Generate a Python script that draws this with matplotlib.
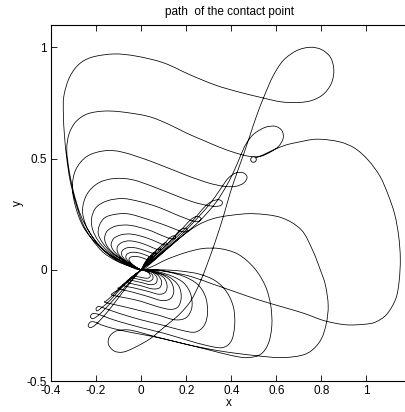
import numpy as np
import matplotlib
matplotlib.use('Agg')
import matplotlib.pyplot as plt
from matplotlib.path import Path
from matplotlib.patches import PathPatch

# start point of the path (small circle)
start_x = [0.496]
start_y = [0.496]

# path, piece by piece (each piece ends at the origin)
lobe_a = [(0.50, 0.50), (0.54, 0.516), (0.59, 0.54), (0.64, 0.56), (0.69, 0.572), (0.78, 0.587),
          (0.88, 0.575), (0.95, 0.545), (1.01, 0.49), (1.06, 0.42), (1.095, 0.34), (1.125, 0.25),
          (1.143, 0.15), (1.15, 0.05), (1.145, -0.05), (1.13, -0.13), (1.09, -0.20), (1.04, -0.235),
          (0.99, -0.245), (0.92, -0.248), (0.86, -0.24), (0.80, -0.225), (0.72, -0.195), (0.62, -0.165),
          (0.52, -0.135), (0.42, -0.10), (0.32, -0.065), (0.22, -0.03), (0.13, -0.01), (0.06, 0.0), (0.0, 0.0)]

loop1 = [(0.0, 0.0), (-0.05, 0.015), (-0.11, 0.04), (-0.17, 0.08), (-0.22, 0.14), (-0.26, 0.21), (-0.29, 0.30),
         (-0.315, 0.40), (-0.33, 0.50), (-0.34, 0.60), (-0.345, 0.70), (-0.343, 0.78), (-0.32, 0.86),
         (-0.28, 0.92), (-0.22, 0.955), (-0.12, 0.97), (-0.02, 0.96), (0.10, 0.93), (0.22, 0.875),
         (0.33, 0.83), (0.43, 0.80), (0.53, 0.775), (0.62, 0.755), (0.70, 0.752), (0.76, 0.762),
         (0.81, 0.79), (0.845, 0.84), (0.855, 0.90), (0.84, 0.955), (0.80, 0.99), (0.75, 1.0),
         (0.69, 0.985), (0.63, 0.94), (0.585, 0.87), (0.55, 0.79), (0.515, 0.70), (0.485, 0.61),
         (0.455, 0.52), (0.425, 0.435), (0.395, 0.345), (0.365, 0.24), (0.33, 0.13), (0.295, 0.03),
         (0.26, -0.06), (0.22, -0.14), (0.17, -0.20), (0.10, -0.26), (0.04, -0.31), (-0.03, -0.35),
         (-0.08, -0.37), (-0.12, -0.365), (-0.145, -0.335), (-0.14, -0.30), (-0.11, -0.275),
         (-0.06, -0.27), (-0.01, -0.28), (0.06, -0.30), (0.20, -0.335), (0.35, -0.365), (0.50, -0.385),
         (0.62, -0.395), (0.71, -0.385), (0.76, -0.36), (0.80, -0.31), (0.822, -0.24), (0.83, -0.16),
         (0.818, -0.07), (0.795, 0.0), (0.76, 0.09), (0.71, 0.18), (0.62, 0.235), (0.50, 0.252),
         (0.40, 0.245), (0.32, 0.23), (0.25, 0.20), (0.18, 0.15), (0.11, 0.09), (0.05, 0.035), (0.0, 0.0)]

loop2 = [(0.0, 0.0), (-0.06, 0.02), (-0.12, 0.05), (-0.18, 0.10), (-0.23, 0.17), (-0.27, 0.25), (-0.30, 0.35),
         (-0.32, 0.45), (-0.33, 0.54), (-0.32, 0.61), (-0.29, 0.665), (-0.24, 0.70), (-0.17, 0.713),
         (-0.09, 0.71), (0.03, 0.69), (0.12, 0.655), (0.20, 0.615), (0.28, 0.58), (0.35, 0.55),
         (0.42, 0.525), (0.48, 0.51), (0.53, 0.51), (0.575, 0.53), (0.61, 0.555), (0.63, 0.59),
         (0.625, 0.625), (0.595, 0.645), (0.55, 0.64), (0.50, 0.61), (0.465, 0.565), (0.44, 0.51),
         (0.415, 0.45), (0.38, 0.38), (0.33, 0.30), (0.26, 0.22), (0.18, 0.15), (0.10, 0.08), (0.04, 0.03),
         (0.0, 0.0), (-0.05, -0.06), (-0.10, -0.125), (-0.15, -0.19), (-0.20, -0.245), (-0.225, -0.26),
         (-0.235, -0.25), (-0.225, -0.235), (-0.205, -0.235), (-0.17, -0.25), (-0.10, -0.27), (0.0, -0.29),
         (0.10, -0.31), (0.20, -0.335), (0.30, -0.36), (0.40, -0.385), (0.47, -0.395), (0.53, -0.38),
         (0.565, -0.33), (0.58, -0.25), (0.575, -0.16), (0.55, -0.07), (0.50, 0.01), (0.43, 0.07),
         (0.35, 0.095), (0.27, 0.095), (0.19, 0.075), (0.11, 0.045), (0.05, 0.015), (0.0, 0.0)]

loop3 = [(0.0, 0.0), (-0.06, 0.025), (-0.13, 0.06), (-0.20, 0.12), (-0.255, 0.19), (-0.29, 0.28), (-0.305, 0.37),
         (-0.29, 0.45), (-0.24, 0.51), (-0.16, 0.535), (-0.08, 0.528), (0.05, 0.485), (0.20, 0.425),
         (0.30, 0.39), (0.37, 0.375), (0.42, 0.375), (0.455, 0.39), (0.47, 0.415), (0.455, 0.435),
         (0.42, 0.435), (0.385, 0.41), (0.35, 0.36), (0.30, 0.29), (0.22, 0.20), (0.14, 0.12), (0.07, 0.06),
         (0.0, 0.0), (-0.05, -0.055), (-0.10, -0.11), (-0.15, -0.165), (-0.19, -0.205), (-0.215, -0.22),
         (-0.225, -0.21), (-0.215, -0.197), (-0.19, -0.20), (-0.15, -0.215), (-0.10, -0.232), (0.0, -0.26),
         (0.10, -0.285), (0.20, -0.315), (0.29, -0.34), (0.36, -0.35), (0.40, -0.32), (0.415, -0.25),
         (0.41, -0.17), (0.38, -0.10), (0.33, -0.05), (0.26, -0.02), (0.17, -0.005), (0.08, 0.0), (0.0, 0.0)]

loop4 = [(0.0, 0.0), (-0.05, 0.02), (-0.10, 0.045), (-0.16, 0.085), (-0.21, 0.14), (-0.245, 0.20), (-0.26, 0.27),
         (-0.24, 0.34), (-0.19, 0.39), (-0.12, 0.41), (-0.04, 0.405), (0.05, 0.375), (0.15, 0.335),
         (0.23, 0.305), (0.29, 0.29), (0.33, 0.285), (0.355, 0.29), (0.36, 0.305), (0.345, 0.315),
         (0.32, 0.31), (0.295, 0.295), (0.27, 0.27), (0.22, 0.21), (0.15, 0.14), (0.08, 0.07), (0.03, 0.025),
         (0.0, 0.0), (-0.05, -0.045), (-0.10, -0.095), (-0.14, -0.14), (-0.175, -0.17), (-0.195, -0.185),
         (-0.20, -0.175), (-0.19, -0.165), (-0.17, -0.17), (-0.10, -0.195), (0.0, -0.225), (0.10, -0.25),
         (0.18, -0.272), (0.24, -0.28), (0.28, -0.25), (0.295, -0.19), (0.285, -0.12), (0.25, -0.065),
         (0.19, -0.03), (0.12, -0.01), (0.05, 0.0), (0.0, 0.0)]

loop5 = [(0.0, 0.0), (-0.05, 0.02), (-0.10, 0.048), (-0.15, 0.085), (-0.19, 0.13), (-0.215, 0.18), (-0.22, 0.23),
         (-0.20, 0.28), (-0.15, 0.31), (-0.08, 0.32), (0.0, 0.305), (0.08, 0.28), (0.15, 0.25), (0.20, 0.23),
         (0.235, 0.218), (0.26, 0.22), (0.265, 0.232), (0.25, 0.24), (0.23, 0.233), (0.205, 0.21),
         (0.16, 0.16), (0.10, 0.10), (0.05, 0.05), (0.0, 0.0), (-0.04, -0.035), (-0.09, -0.08),
         (-0.13, -0.118), (-0.155, -0.14), (-0.162, -0.143), (-0.155, -0.148), (-0.08, -0.165),
         (0.0, -0.185), (0.08, -0.205), (0.15, -0.225), (0.20, -0.215), (0.225, -0.17), (0.22, -0.11),
         (0.19, -0.06), (0.14, -0.03), (0.08, -0.01), (0.03, 0.0), (0.0, 0.0)]

loop6 = [(0.0, 0.0), (-0.045, 0.02), (-0.09, 0.048), (-0.135, 0.08), (-0.17, 0.12), (-0.19, 0.16), (-0.185, 0.20),
         (-0.16, 0.235), (-0.11, 0.25), (-0.05, 0.25), (0.05, 0.22), (0.12, 0.195), (0.17, 0.175),
         (0.195, 0.17), (0.205, 0.178), (0.195, 0.187), (0.175, 0.18), (0.16, 0.165), (0.12, 0.12),
         (0.07, 0.07), (0.03, 0.03), (0.0, 0.0), (-0.04, -0.035), (-0.08, -0.07), (-0.11, -0.095),
         (-0.13, -0.108), (-0.125, -0.115), (-0.06, -0.128), (0.0, -0.142), (0.07, -0.165), (0.13, -0.178),
         (0.165, -0.165), (0.178, -0.12), (0.165, -0.07), (0.12, -0.03), (0.06, -0.01), (0.0, 0.0)]

loop7 = [(0.0, 0.0), (-0.04, 0.018), (-0.08, 0.042), (-0.12, 0.072), (-0.15, 0.105), (-0.162, 0.14), (-0.15, 0.175),
         (-0.11, 0.197), (-0.05, 0.20), (0.03, 0.18), (0.09, 0.155), (0.13, 0.14), (0.15, 0.14), (0.152, 0.149),
         (0.14, 0.152), (0.12, 0.137), (0.09, 0.10), (0.05, 0.055), (0.02, 0.02), (0.0, 0.0), (-0.03, -0.025),
         (-0.065, -0.055), (-0.095, -0.078), (-0.10, -0.085), (-0.04, -0.10), (0.03, -0.12), (0.09, -0.138),
         (0.13, -0.13), (0.145, -0.095), (0.13, -0.05), (0.09, -0.02), (0.04, -0.005), (0.0, 0.0)]

loop8 = [(0.0, 0.0), (-0.035, 0.016), (-0.07, 0.037), (-0.10, 0.062), (-0.125, 0.09), (-0.133, 0.115),
         (-0.12, 0.142), (-0.085, 0.158), (-0.04, 0.16), (0.02, 0.145), (0.07, 0.125), (0.10, 0.112),
         (0.115, 0.114), (0.108, 0.122), (0.09, 0.11), (0.06, 0.075), (0.03, 0.035), (0.0, 0.0),
         (-0.03, -0.025), (-0.06, -0.05), (-0.08, -0.066), (-0.078, -0.072), (-0.03, -0.082), (0.03, -0.097),
         (0.08, -0.11), (0.108, -0.10), (0.115, -0.07), (0.10, -0.035), (0.06, -0.012), (0.02, 0.0), (0.0, 0.0)]

loop9 = [(0.0, 0.0), (-0.03, 0.014), (-0.06, 0.032), (-0.088, 0.055), (-0.105, 0.08), (-0.105, 0.105),
         (-0.085, 0.123), (-0.05, 0.13), (0.0, 0.12), (0.05, 0.10), (0.075, 0.09), (0.088, 0.092),
         (0.08, 0.098), (0.06, 0.08), (0.03, 0.04), (0.0, 0.0), (-0.025, -0.02), (-0.05, -0.04),
         (-0.065, -0.052), (-0.06, -0.058), (0.0, -0.072), (0.05, -0.086), (0.083, -0.08), (0.09, -0.05),
         (0.07, -0.02), (0.03, -0.005), (0.0, 0.0)]

loop10 = [(0.0, 0.0), (-0.025, 0.012), (-0.05, 0.028), (-0.072, 0.046), (-0.086, 0.066), (-0.084, 0.085),
          (-0.065, 0.098), (-0.035, 0.10), (0.0, 0.092), (0.04, 0.078), (0.058, 0.072), (0.066, 0.075),
          (0.055, 0.078), (0.035, 0.055), (0.015, 0.022), (0.0, 0.0), (-0.02, -0.016), (-0.04, -0.032),
          (-0.052, -0.042), (-0.045, -0.047), (0.0, -0.057), (0.04, -0.067), (0.066, -0.06), (0.07, -0.035),
          (0.05, -0.012), (0.02, 0.0), (0.0, 0.0)]

loop11 = [(0.0, 0.0), (-0.02, 0.01), (-0.04, 0.024), (-0.058, 0.04), (-0.068, 0.055), (-0.063, 0.07),
          (-0.045, 0.078), (-0.02, 0.078), (0.01, 0.07), (0.035, 0.06), (0.048, 0.058), (0.045, 0.064),
          (0.03, 0.052), (0.012, 0.02), (0.0, 0.0), (-0.02, -0.016), (-0.035, -0.027), (-0.042, -0.033),
          (-0.035, -0.037), (0.0, -0.045), (0.035, -0.052), (0.052, -0.04), (0.048, -0.02), (0.02, -0.005),
          (0.0, 0.0)]

loop12 = [(0.0, 0.0), (-0.016, 0.008), (-0.032, 0.019), (-0.046, 0.032), (-0.054, 0.045), (-0.048, 0.056),
          (-0.03, 0.06), (-0.005, 0.057), (0.02, 0.048), (0.034, 0.044), (0.03, 0.048), (0.015, 0.03),
          (0.0, 0.0), (-0.015, -0.012), (-0.028, -0.022), (-0.032, -0.026), (-0.025, -0.029), (0.0, -0.034),
          (0.028, -0.038), (0.04, -0.03), (0.035, -0.015), (0.015, -0.004), (0.0, 0.0)]

xticks = [-0.4, -0.2, 0, 0.2, 0.4, 0.6, 0.8, 1]
xtick_labels = ['-0.4', '-0.2', '0', '0.2', '0.4', '0.6', '0.8', '1']
yticks = [-0.5, 0, 0.5, 1]
ytick_labels = ['-0.5', '0', '0.5', '1']


def smooth_path(p):
    # draw a smooth curve through the traced points (catmull-rom as bezier segments)
    ext = np.vstack([p[0], p, p[-1]])
    verts = [p[0]]
    codes = [Path.MOVETO]
    for i in range(1, len(ext) - 2):
        p0, p1, p2, p3 = ext[i - 1], ext[i], ext[i + 1], ext[i + 2]
        verts += [p1 + (p2 - p0) / 6.0, p2 - (p3 - p1) / 6.0, p2]
        codes += [Path.CURVE4] * 3
    return Path(verts, codes)


pts = []
for piece in [lobe_a, loop1, loop2, loop3, loop4, loop5, loop6, loop7, loop8, loop9, loop10, loop11, loop12]:
    for q in piece:
        if not pts or q != pts[-1]:
            pts.append(q)
pts = np.array(pts, dtype=float)

plt.rcParams['font.family'] = ['Liberation Sans', 'DejaVu Sans']

fig = plt.figure(figsize=(4.06, 4.12), dpi=100)
ax = fig.add_axes([0.1256, 0.0752, 0.877, 0.864])

ax.add_patch(PathPatch(smooth_path(pts), fill=False, lw=0.55, ec='black'))
ax.plot(start_x, start_y, 'o', ms=4, mfc='white', mec='black', mew=0.6)

ax.set_xlim(-0.4, 1.18)
ax.set_ylim(-0.5, 1.1)
ax.set_xticks(xticks)
ax.set_xticklabels(xtick_labels)
ax.set_yticks(yticks)
ax.set_yticklabels(ytick_labels)
ax.tick_params(direction='in', length=4, width=0.6, top=True, right=False, labelsize=8.5, pad=3)
for s in ax.spines.values():
    s.set_linewidth(0.8)

ax.set_title('path  of the contact point', fontsize=8.5, pad=7)
ax.set_xlabel('x', fontsize=8.5, labelpad=0)
ax.set_ylabel('y', fontsize=8.5, labelpad=2)

fig.savefig('out.png', dpi=100)
